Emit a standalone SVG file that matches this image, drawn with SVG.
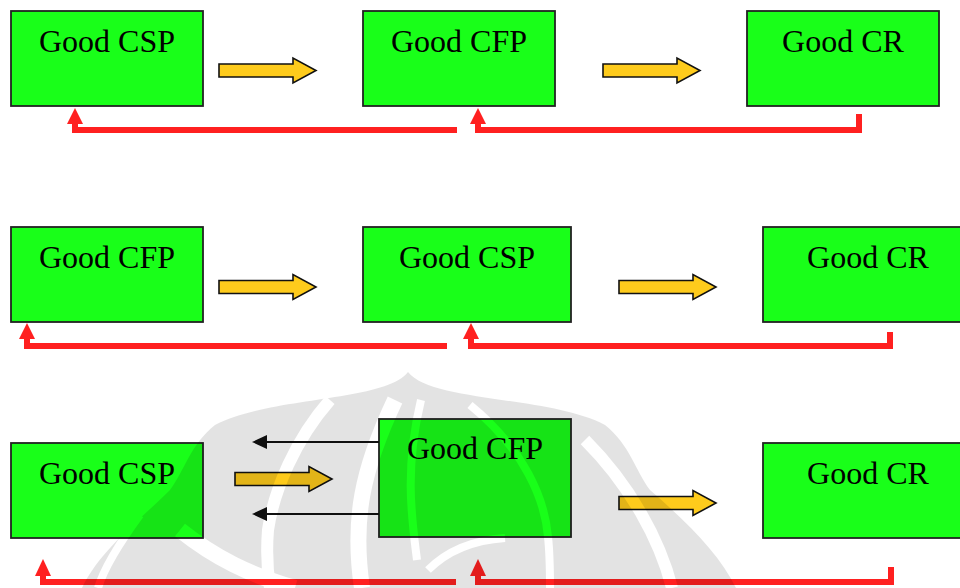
<svg xmlns="http://www.w3.org/2000/svg" width="960" height="588" viewBox="0 0 960 588">
  <style>
    .box { fill: #19ff19; stroke: #222; stroke-width: 1.8; }
    .lbl { font-family: "Liberation Serif", "Times New Roman", serif; font-size: 32px; fill: #000; text-anchor: middle; }
    .flow { fill: #fecb1c; stroke: #111; stroke-width: 1.6; stroke-linejoin: miter; }
    .fb { fill: none; stroke: #ff2020; stroke-width: 6; stroke-linejoin: miter; }
    .fbhead { fill: #ff2020; }
    .back { stroke: #111; stroke-width: 2.2; fill: none; }
  </style>
  <defs>
    <polygon id="fatArrow" class="flow" points="0,-6.5 74,-6.5 74,-12.5 97,0 74,12.5 74,6.5 0,6.5"/>
    <!-- emblem silhouette with its light inner bands cut out -->
    <mask id="wmMask" maskUnits="userSpaceOnUse" x="0" y="0" width="960" height="588">
      <rect x="0" y="0" width="960" height="588" fill="#000"/>
      <path fill="#fff" d="M82,588 C100,550 140,520 170,490 C185,470 190,445 215,425 C270,396 385,402 408,372 C431,402 550,396 605,425 C630,445 635,470 650,490 C690,525 720,555 736,588 Z"/>
      <g fill="none" stroke="#000" stroke-linecap="butt">
        <path d="M330,400 C295,440 274,490 268,530 C266,555 268,575 270,588" stroke-width="12"/>
        <path d="M395,400 C362,470 352,520 362,588" stroke-width="16"/>
        <path d="M421,400 C404,470 412,520 417,560" stroke-width="8"/>
        <path d="M470,405 C525,450 545,500 548,537 C550,555 550,572 550,588" stroke-width="8"/>
        <path d="M140,515 C118,545 104,568 98,588" stroke-width="8"/>
        <path d="M180,530 C215,558 250,575 295,588" stroke-width="16"/>
        <path d="M585,440 C630,485 660,540 672,588" stroke-width="12"/>
        <path d="M428,570 C448,550 475,540 505,538" stroke-width="8"/>
      </g>
    </mask>
  </defs>

  <!-- sequence 1: CSP -> CFP -> CR -->
  <g id="r1-csp"><rect class="box" x="11" y="11" width="192" height="95"/><text class="lbl" x="107" y="52">Good CSP</text></g>
  <g id="r1-cfp"><rect class="box" x="363" y="11" width="192" height="95"/><text class="lbl" x="459" y="52">Good CFP</text></g>
  <g id="r1-cr"><rect class="box" x="747" y="11" width="192" height="95"/><text class="lbl" x="843" y="52">Good CR</text></g>

  <!-- sequence 2: CFP -> CSP -> CR -->
  <g id="r2-cfp"><rect class="box" x="11" y="227" width="192" height="95"/><text class="lbl" x="107" y="268">Good CFP</text></g>
  <g id="r2-csp"><rect class="box" x="363" y="227" width="208" height="95"/><text class="lbl" x="467" y="268">Good CSP</text></g>
  <g id="r2-cr"><rect class="box" x="763" y="227" width="208" height="95"/><text class="lbl" x="868" y="268">Good CR</text></g>

  <!-- sequence 3: CSP <-> CFP -> CR -->
  <g id="r3-csp"><rect class="box" x="11" y="443" width="192" height="95"/><text class="lbl" x="107" y="484">Good CSP</text></g>
  <g id="r3-cfp"><rect class="box" x="379" y="419" width="192" height="118"/><text class="lbl" x="475" y="459">Good CFP</text></g>
  <g id="r3-cr"><rect class="box" x="763" y="443" width="208" height="95"/><text class="lbl" x="868" y="484">Good CR</text></g>

  <g id="connectors">
    <!-- forward flow arrows -->
    <use href="#fatArrow" transform="translate(219,70.5)"/>
    <use href="#fatArrow" transform="translate(603,70.5)"/>
    <use href="#fatArrow" transform="translate(219,287)"/>
    <use href="#fatArrow" transform="translate(619,287)"/>
    <use href="#fatArrow" transform="translate(235,479)"/>
    <use href="#fatArrow" transform="translate(619,503)"/>

    <!-- return arrows CFP -> CSP -->
    <path class="back" d="M379,442 H264"/>
    <polygon points="252,442 267,435 267,449" fill="#111"/>
    <path class="back" d="M379,514 H264"/>
    <polygon points="252,514 267,507 267,521" fill="#111"/>

    <!-- feedback loops, row 1 -->
    <path class="fb" d="M457,130 H75 V121"/>
    <polygon class="fbhead" points="75,108 83,124 67,124"/>
    <path class="fb" d="M859,114 V130 H478 V121"/>
    <polygon class="fbhead" points="478,108 486,124 470,124"/>

    <!-- feedback loops, row 2 -->
    <path class="fb" d="M447,346 H27 V337"/>
    <polygon class="fbhead" points="27,323 35,339 19,339"/>
    <path class="fb" d="M890,332 V346 H471 V337"/>
    <polygon class="fbhead" points="471,323 479,339 463,339"/>

    <!-- feedback loops, row 3 -->
    <path class="fb" d="M456,582 H43 V573"/>
    <polygon class="fbhead" points="43,559 51,576 35,576"/>
    <path class="fb" d="M891,567 V582 H478 V573"/>
    <polygon class="fbhead" points="478,559 486,576 470,576"/>
  </g>

  <!-- faint emblem printed across the lower part -->
  <rect x="0" y="360" width="960" height="228" fill="#000" fill-opacity="0.11" mask="url(#wmMask)"/>
</svg>
